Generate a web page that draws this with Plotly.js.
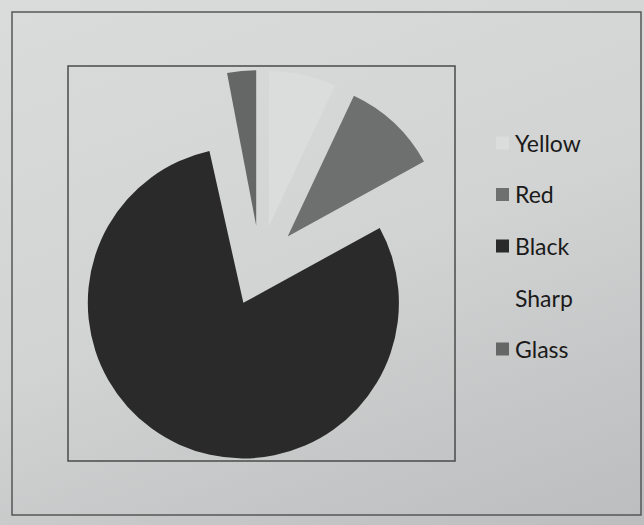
<!DOCTYPE html>
<html>
<head>
<meta charset="utf-8">
<script src="https://cdn.plot.ly/plotly-3.0.1.min.js"></script>
<style>
html, body { margin: 0; padding: 0; }
body { width: 644px; height: 525px; overflow: hidden;
  background: linear-gradient(160deg, #dadbdb 0%, #d2d3d3 50%, #bbbdbe 100%); }
#chart { width: 644px; height: 525px; }
</style>
</head>
<body>
<div id="chart"></div>
<script>
// Data (percent shares, clockwise from 12 o'clock)
const labels = ['Yellow', 'Red', 'Black', 'Sharp', 'Glass'];
const values = [7, 10, 79.5, 0.5, 3];
const colors = ['#dbdcdc', '#6e6f6f', '#2a2a2a', 'rgba(255,255,255,0)', '#656666'];
const pulls  = [0.26, 0.26, 0.26, 0.26, 0.26];

const W = 644, H = 525;
const px = x => x / W;
const py = y => 1 - y / H;

const trace = {
  type: 'pie',
  labels: labels,
  values: values,
  sort: false,
  direction: 'clockwise',
  rotation: 0,
  pull: pulls,
  marker: { colors: colors, line: { width: 0 } },
  textinfo: 'none',
  hoverinfo: 'label+value',
  showlegend: false,
  domain: { x: [px(64), px(456)], y: [py(462), py(70)] }
};

// Legend drawn from the same label/colour arrays
const legendTop = 143, legendStep = 51.5;
const shapes = [
  { type: 'rect', xref: 'paper', yref: 'paper', x0: px(12), x1: px(641), y0: py(515), y1: py(12),
    line: { color: '#555757', width: 1.5 }, fillcolor: 'rgba(0,0,0,0)' },
  { type: 'rect', xref: 'paper', yref: 'paper', x0: px(68), x1: px(455), y0: py(461), y1: py(66),
    line: { color: '#4a4b4b', width: 1.5 }, fillcolor: 'rgba(0,0,0,0)', layer: 'below' }
];
const annotations = [];
labels.forEach((lab, i) => {
  const yc = legendTop + i * legendStep;
  shapes.push({ type: 'rect', xref: 'paper', yref: 'paper',
    x0: px(496), x1: px(509), y0: py(yc + 6.5), y1: py(yc - 6.5),
    fillcolor: colors[i], line: { width: 0 } });
  annotations.push({ xref: 'paper', yref: 'paper', x: px(513), y: py(yc),
    xanchor: 'left', yanchor: 'middle', showarrow: false, text: lab,
    font: { family: 'Lato, "Open Sans", sans-serif', size: 23, color: '#1a1a1a' } });
});

const layout = {
  width: W, height: H,
  margin: { l: 0, r: 0, t: 0, b: 0 },
  paper_bgcolor: 'rgba(0,0,0,0)',
  plot_bgcolor: 'rgba(0,0,0,0)',
  showlegend: false,
  shapes: shapes,
  annotations: annotations,
  font: { family: 'Lato, sans-serif' }
};

Plotly.newPlot('chart', [trace], layout, { displayModeBar: false, staticPlot: true });
</script>
</body>
</html>
